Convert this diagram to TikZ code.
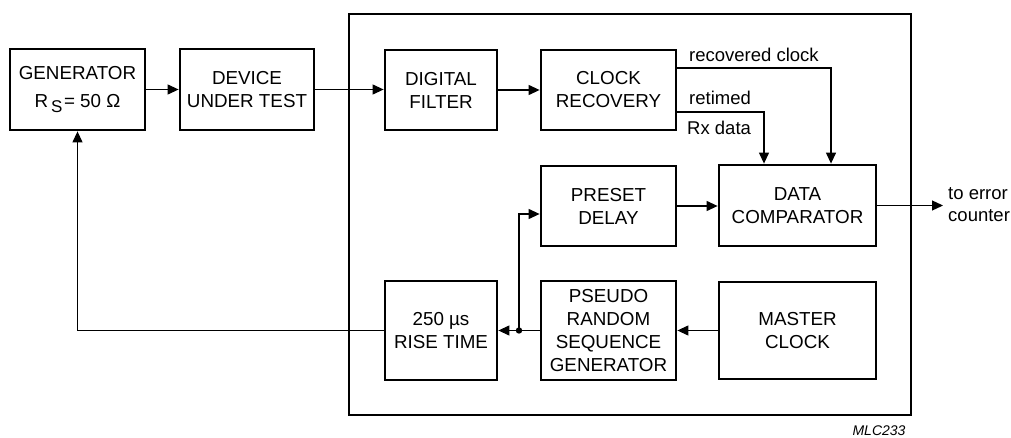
\documentclass[tikz,border=0pt]{standalone}
\usepackage{fontspec}
\setmainfont{Liberation Sans}
\usetikzlibrary{arrows.meta,calc}
\begin{document}
\begin{tikzpicture}[x=1pt,y=-1pt,
  blk/.style={draw,line width=2.8pt,rectangle,inner sep=0pt,align=center,
    font=\fontsize{18.8}{23}\selectfont},
  arr/.style={line width=1.2pt,-{Triangle[length=11pt,width=10pt]}},
  lbl/.style={inner sep=0pt,font=\fontsize{18.5}{22.5}\selectfont}]
\useasboundingbox (0,0) rectangle (1011,438);
% outer frame
\draw[line width=2.8pt] (349,14) rectangle (911,415);
% blocks
\node[blk,minimum width=135pt,minimum height=81pt] (gen) at (77.5,89.5)
  {GENERATOR\\[5pt]R\kern3pt\raisebox{-0.5ex}{\fontsize{17}{17}\selectfont S}\kern1.5pt= 50 Ω};
\node[blk,minimum width=134pt,minimum height=81pt] (dut) at (247,89.5) {DEVICE\\UNDER TEST};
\node[blk,minimum width=112pt,minimum height=80pt] (df) at (441,90) {DIGITAL\\FILTER};
\node[blk,minimum width=135pt,minimum height=80pt] (cr) at (608.5,90) {CLOCK\\RECOVERY};
\node[blk,minimum width=135pt,minimum height=80pt] (pd) at (608.5,206) {PRESET\\DELAY};
\node[blk,minimum width=157pt,minimum height=81pt] (dc) at (797.5,205.5) {DATA\\COMPARATOR};
\node[blk,minimum width=157pt,minimum height=97pt] (mc) at (797.5,330.5) {MASTER\\CLOCK};
\node[blk,minimum width=135pt,minimum height=99pt] (prsg) at (608.5,330.5) {PSEUDO\\RANDOM\\SEQUENCE\\GENERATOR};
\node[blk,minimum width=112pt,minimum height=99pt] (rt) at (441,330.5) {250 µs\\RISE TIME};
% coordinates
\coordinate (j) at (519,330.5);
\coordinate (out) at (943,205.5);
% connectors
\draw[arr] (gen) -- (dut);
\draw[arr] (dut.east) -- (dut.east -| df.west);
\draw[arr] (df.east) -- (df.east -| cr.west);
\draw[arr] (cr.east |- 0,68) -| ([xshift=33.5pt]dc.north);
\draw[arr] (cr.east |- 0,112) -| ([xshift=-33.5pt]dc.north);
\draw[arr] (pd.east) -- (pd.east -| dc.west);
\draw[arr] (mc.west) -- (mc.west -| prsg.east);
\draw[arr] (prsg.west) -- (rt.east);
\fill (j) circle (3.2pt);
\draw[arr] (j) |- (pd.west |- 0,214);
\draw[arr] (rt.west) -| (gen.south);
\draw[arr] (dc.east) -- (out);
% labels
\node[lbl,anchor=base west] (lrc) at (689,61.5) {recovered clock};
\node[lbl,anchor=base west] (lrt) at (689,105) {retimed};
\node[lbl,anchor=base west] (lrx) at (687,135) {Rx data};
\node[lbl,anchor=west,align=left,font=\fontsize{18.5}{22}\selectfont] (lout) at (948,204.5) {to error\\counter};
\node[inner sep=0pt,font=\fontsize{14}{16}\itshape] (mlc) at (879,431) {MLC233};
\end{tikzpicture}
\end{document}
